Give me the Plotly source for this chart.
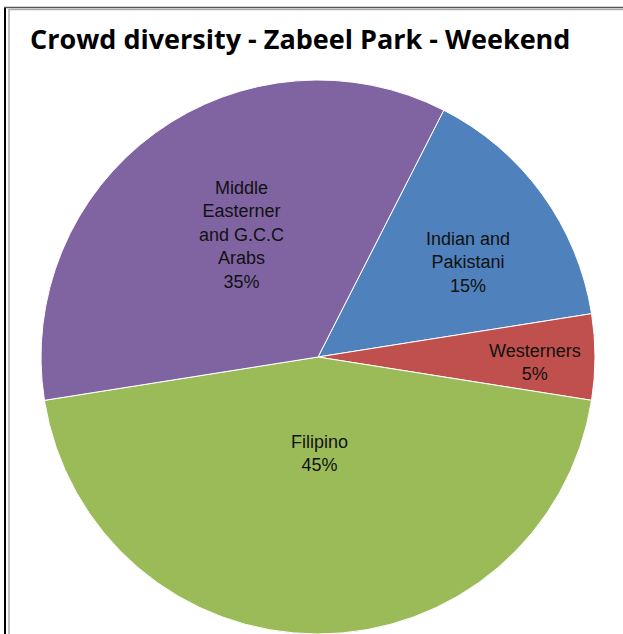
import plotly.graph_objects as go

# Crowd composition shares (percent), in clockwise drawing order
groups = ["Indian and Pakistani", "Westerners", "Filipino",
          "Middle Easterner and G.C.C Arabs"]
shares = [15, 5, 45, 35]
label_lines = [["Indian and", "Pakistani"], ["Westerners"], ["Filipino"],
               ["Middle", "Easterner", "and G.C.C", "Arabs"]]

colors = ["#4F81BD", "#C0504D", "#9BBB59", "#8064A2"]

W, H = 623, 634
# pie geometry in pixels (centre and radius)
cx, cy, rad = 318, 357, 277
# label anchor points in pixels
label_pos = [(468, 262), (535, 362), (320, 453), (241, 235)]

fig = go.Figure(go.Pie(
    labels=groups,
    values=shares,
    sort=False,
    direction="clockwise",
    rotation=27,
    textinfo="none",
    hoverinfo="label+percent",
    marker=dict(colors=colors, line=dict(color="white", width=1)),
    domain=dict(x=[(cx - rad) / W, (cx + rad) / W],
                y=[1 - (cy + rad) / H, 1 - (cy - rad) / H]),
    showlegend=False,
))

total = sum(shares)
for lines, val, (px, py) in zip(label_lines, shares, label_pos):
    text = "<br>".join(lines + [f"{round(100 * val / total)}%"])
    fig.add_annotation(
        x=px / W, y=1 - py / H, xref="paper", yref="paper",
        text=text, showarrow=False, xanchor="center", yanchor="middle",
        align="center",
        font=dict(family="Liberation Sans, Arial, sans-serif", size=18,
                  color="#111111"),
    )

# chart frame
frame = [
    dict(x0=5 / W, x1=5 / W, y0=0, y1=1 - 7 / H, color="#000000", width=2),
    dict(x0=4 / W, x1=1, y0=1 - 7.5 / H, y1=1 - 7.5 / H, color="#555555", width=1.5),
    dict(x0=9 / W, x1=1, y0=1 - 9.5 / H, y1=1 - 9.5 / H, color="#aaaaaa", width=1.5),
    dict(x0=9 / W, x1=9 / W, y0=0, y1=1 - 9 / H, color="#aaaaaa", width=1.5),
]
for f in frame:
    fig.add_shape(type="line", xref="paper", yref="paper",
                  x0=f["x0"], x1=f["x1"], y0=f["y0"], y1=f["y1"],
                  line=dict(color=f["color"], width=f["width"]))

fig.update_layout(
    width=W, height=H,
    margin=dict(l=0, r=0, t=0, b=0),
    paper_bgcolor="white",
    title=dict(text="<b>Crowd diversity - Zabeel Park - Weekend</b>",
               x=30 / W, xanchor="left", y=1 - 40 / H, yanchor="middle",
               font=dict(family="Open Sans, sans-serif", size=27, color="#000000")),
)

fig.write_html("out.html")
